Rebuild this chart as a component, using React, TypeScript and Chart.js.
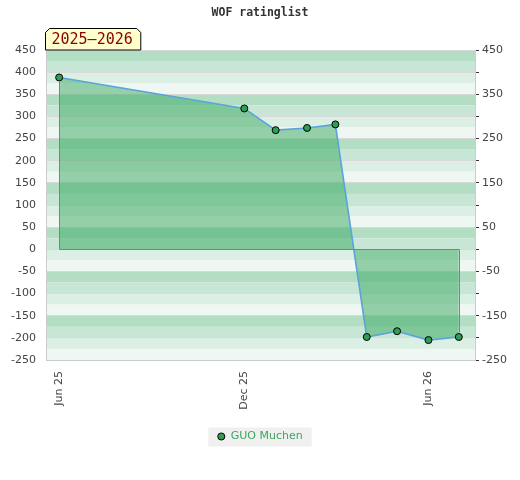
import React, { useEffect, useRef } from "react";
import { Chart, registerables } from "chart.js";

Chart.register(...registerables);

const TITLE = "WOF ratinglist";
const SEASON = "2025–2026";
const SERIES_NAME = "GUO Muchen";

const dates = [
  "2025-06-01",
  "2025-12-01",
  "2026-01-01",
  "2026-02-01",
  "2026-03-01",
  "2026-04-01",
  "2026-05-01",
  "2026-06-01",
  "2026-07-01",
];
const ratings = [388, 318, 269, 274, 282, -198, -185, -205, -198];

const xTickDates = ["2025-06-01", "2025-12-01", "2026-06-01"];
const xTickLabels = ["Jun 25", "Dec 25", "Jun 26"];

const X_MIN = "2025-05-19";
const X_MAX = "2026-07-17";
const Y_MIN = -250;
const Y_MAX = 450;
const Y_STEP = 50;

const ts = (s: string) => Date.parse(s + "T00:00:00Z");

const FONT = "'DejaVu Sans', sans-serif";
const MONO = "'DejaVu Sans Mono', monospace";
const BAND_COLORS = ["#b3dec4", "#c8e6d5", "#dcefe4", "#eff7f2"];
const POINT_FILL = "#2e9e55";
const LEGEND_TEXT = "#3aa65e";
const OUTLINE = "#3aac62";
const POINT_R = 3.5;

function drawOutline(chart: any) {
  const { ctx } = chart;
  const x = chart.scales.x;
  const y = chart.scales.y;
  const n = dates.length;
  const x0 = Math.round(x.getPixelForValue(ts(dates[0]))) + 0.5;
  const x1 = Math.round(x.getPixelForValue(ts(dates[n - 1]))) + 0.5;
  const z = Math.round(y.getPixelForValue(0)) + 0.5;
  const yFirst = y.getPixelForValue(ratings[0]);
  const yLast = y.getPixelForValue(ratings[n - 1]);
  const off = POINT_R + 1;
  ctx.save();
  ctx.globalAlpha = 1;
  ctx.globalCompositeOperation = "source-over";
  ctx.setLineDash([]);
  ctx.strokeStyle = OUTLINE;
  ctx.lineWidth = 1;
  ctx.beginPath();
  ctx.moveTo(x0, yFirst + (yFirst < z ? off : -off));
  ctx.lineTo(x0, z);
  ctx.lineTo(x1, z);
  ctx.lineTo(x1, yLast + (yLast < z ? off : -off));
  ctx.stroke();
  ctx.restore();
}

const decorPlugin = {
  id: "decor",
  beforeDraw(chart: any) {
    const { ctx, chartArea } = chart;
    const y = chart.scales.y;
    const { left, right } = chartArea;
    ctx.save();
    const band = Y_STEP / 2;
    let i = 0;
    for (let v = Y_MAX; v > Y_MIN; v -= band) {
      const y1 = y.getPixelForValue(v);
      const y2 = y.getPixelForValue(v - band);
      ctx.fillStyle = BAND_COLORS[i % 4];
      ctx.fillRect(left, y1, right - left, y2 - y1);
      i++;
    }
    // legend background
    const lg = chart.legend;
    if (lg && lg.legendHitBoxes && lg.legendHitBoxes.length) {
      const h = lg.legendHitBoxes[0];
      ctx.fillStyle = "#f0f0f0";
      ctx.fillRect(h.left - 9, h.top + h.height / 2 - 9, h.width + 18, 19);
    }
    ctx.restore();
  },
  afterDraw(chart: any) {
    const { ctx, chartArea } = chart;
    drawOutline(chart);
    ctx.save();
    // title
    ctx.font = `bold 11.5px ${MONO}`;
    ctx.fillStyle = "#333";
    ctx.textAlign = "center";
    ctx.textBaseline = "middle";
    ctx.fillText(TITLE, chart.width / 2, 13);
    // season tag
    ctx.font = `15px ${MONO}`;
    const tw = ctx.measureText(SEASON).width;
    const l = chartArea.left - 0.5;
    const r = l + tw + 14;
    const t = 28.5;
    const b = chartArea.top;
    const c = 4;
    ctx.beginPath();
    ctx.moveTo(l, b);
    ctx.lineTo(l, t + c);
    ctx.lineTo(l + c, t);
    ctx.lineTo(r - c, t);
    ctx.lineTo(r, t + c);
    ctx.lineTo(r, b);
    ctx.closePath();
    ctx.fillStyle = "#ffffcc";
    ctx.fill();
    ctx.strokeStyle = "#000";
    ctx.lineWidth = 1;
    ctx.stroke();
    ctx.fillStyle = "#8b0000";
    ctx.textAlign = "left";
    ctx.textBaseline = "middle";
    ctx.fillText(SEASON, l + 6, (t + b) / 2 + 1);
    ctx.restore();
  },
};

export default function App() {
  const ref = useRef<HTMLCanvasElement | null>(null);

  useEffect(() => {
    document.body.style.margin = "0";
    if (!ref.current) return;
    const tickValues = xTickDates.map(ts);
    const chart = new Chart(ref.current, {
      type: "line",
      data: {
        datasets: [
          {
            label: SERIES_NAME,
            data: dates.map((d, i) => ({ x: ts(d), y: ratings[i] })),
            borderColor: "#5aa3dc",
            borderWidth: 1.6,
            backgroundColor: "rgba(55,167,96,0.5)",
            fill: "origin",
            tension: 0,
            pointRadius: POINT_R,
            pointBackgroundColor: POINT_FILL,
            pointBorderColor: "#000",
            pointBorderWidth: 1,
          } as any,
        ],
      },
      options: {
        animation: false,
        responsive: true,
        maintainAspectRatio: false,
        layout: { padding: { top: 50, bottom: 28, left: 0, right: 0 } },
        scales: {
          x: {
            type: "linear",
            min: ts(X_MIN),
            max: ts(X_MAX),
            grid: { display: false },
            border: { color: "#cccccc" },
            ticks: {
              autoSkip: false,
              maxRotation: 90,
              minRotation: 90,
              padding: 3,
              color: "#444",
              font: { size: 11, family: FONT },
              callback: (v: any) => {
                const i = tickValues.indexOf(Number(v));
                return i >= 0 ? xTickLabels[i] : "";
              },
            },
            afterBuildTicks: (s: any) => {
              s.ticks = tickValues.map((v) => ({ value: v }));
            },
            afterFit: (s: any) => {
              s.height = 61;
            },
          } as any,
          y: {
            type: "linear",
            position: "left",
            min: Y_MIN,
            max: Y_MAX,
            grid: { color: "#d9d9d9", drawTicks: false },
            border: { color: "#cccccc" },
            ticks: {
              stepSize: Y_STEP,
              padding: 10,
              color: "#444",
              font: { size: 11, family: FONT },
            },
            afterFit: (s: any) => {
              s.width = 46;
            },
          } as any,
          y2: {
            type: "linear",
            position: "right",
            min: Y_MIN,
            max: Y_MAX,
            grid: { drawOnChartArea: false, tickLength: 4, tickColor: "#333" },
            border: { color: "#cccccc" },
            ticks: {
              stepSize: Y_STEP,
              padding: 3,
              color: "#444",
              font: { size: 11, family: FONT },
              callback: (v: any) => ((Y_MAX - Number(v)) % (Y_STEP * 2) === 0 ? String(v) : ""),
            },
            afterFit: (s: any) => {
              s.width = 45;
            },
          } as any,
        },
        plugins: {
          title: { display: false },
          tooltip: { enabled: false },
          legend: {
            position: "bottom",
            labels: {
              usePointStyle: true,
              boxWidth: 8,
              boxHeight: 5,
              padding: 10,
              color: LEGEND_TEXT,
              font: { size: 11, family: FONT },
              generateLabels: () => [
                {
                  text: SERIES_NAME,
                  fillStyle: POINT_FILL,
                  strokeStyle: "#000",
                  lineWidth: 1,
                  pointStyle: "circle",
                  fontColor: LEGEND_TEXT,
                  hidden: false,
                  datasetIndex: 0,
                } as any,
              ],
            },
          },
        },
      },
      plugins: [decorPlugin as any],
    });
    return () => chart.destroy();
  }, []);

  return (
    <div style={{ position: "relative", width: 520, height: 480 }}>
      <canvas ref={ref} />
    </div>
  );
}
